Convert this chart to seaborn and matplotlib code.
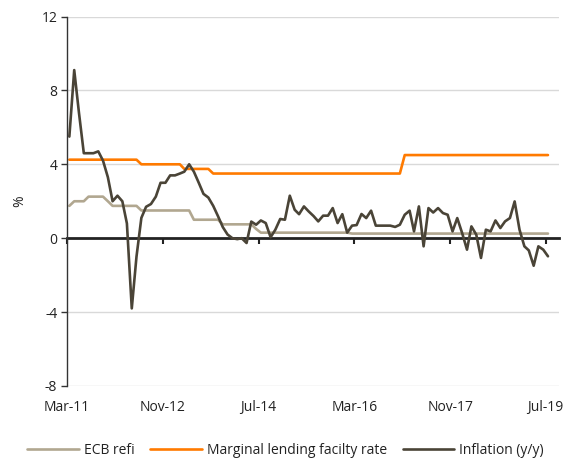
import numpy as np
import pandas as pd
import matplotlib
matplotlib.use("Agg")
import matplotlib.pyplot as plt
import matplotlib.dates as mdates
import seaborn as sns

# monthly data, Mar-11 .. Jul-19
months = pd.date_range("2011-03-01", periods=101, freq="MS") + pd.Timedelta(days=15)

inflation = [5.5, 9.1, 6.8, 4.6, 4.6, 4.6, 4.7, 4.2, 3.3, 2.0,
             2.3, 2.0, 0.8, -3.8, -1.0, 1.1, 1.7, 1.85, 2.25, 3.0,
             3.0, 3.4, 3.4, 3.5, 3.6, 4.0, 3.6, 3.0, 2.4, 2.2,
             1.75, 1.2, 0.6, 0.2, 0.0, -0.05, 0.0, -0.26, 0.9, 0.73,
             0.96, 0.82, 0.05, 0.46, 1.04, 1.0, 2.3, 1.54, 1.3, 1.72,
             1.45, 1.2, 0.91, 1.22, 1.22, 1.63, 0.82, 1.3, 0.3, 0.68,
             0.71, 1.31, 1.09, 1.49, 0.68, 0.68, 0.68, 0.68, 0.61, 0.73,
             1.27, 1.49, 0.37, 1.72, -0.44, 1.63, 1.39, 1.63, 1.36, 1.27,
             0.37, 1.09, 0.28, -0.62, 0.64, 0.19, -1.07, 0.46, 0.37, 0.96,
             0.55, 0.91, 1.09, 1.99, 0.46, -0.44, -0.66, -1.49, -0.44, -0.62,
             -0.98]

refi = ([1.75] + [2.0] * 3 + [2.25] * 4 + [2.0] + [1.75] * 6 + [1.5] * 11
        + [1.0] * 6 + [0.75] * 7 + [0.5] + [0.3] * 19 + [0.25] * 42)

mlf = [4.25] * 15 + [4.0] * 9 + [3.75] * 6 + [3.5] * 40 + [4.5] * 31

names = ["ECB refi", "Marginal lending facilty rate", "Inflation (y/y)"]
colors = ["#b1a790", "#ff7a00", "#4a4437"]

df = pd.concat([
    pd.DataFrame({"date": months, "value": refi, "series": names[0]}),
    pd.DataFrame({"date": months, "value": mlf, "series": names[1]}),
    pd.DataFrame({"date": months, "value": inflation, "series": names[2]}),
])

tick_dates = pd.to_datetime(["2011-03-01", "2012-11-01", "2014-07-01",
                             "2016-03-01", "2017-11-01", "2019-07-01"])

sns.set_theme(style="white")
plt.rcParams["font.family"] = ["Open Sans", "DejaVu Sans"]
plt.rcParams["axes.unicode_minus"] = False

fig = plt.figure(figsize=(5.79, 4.61), dpi=100)
ax = fig.add_axes([0.1157, 0.1627, 0.85, 0.8015])

sns.lineplot(data=df, x="date", y="value", hue="series", hue_order=names,
             palette=colors, linewidth=1.9, ax=ax, legend=False)

ax.set_ylim(-8, 12)
ax.set_yticks([-8, -4, 0, 4, 8, 12])
ax.set_xlim(pd.Timestamp("2011-03-01"), pd.Timestamp("2019-09-25"))
ax.yaxis.grid(True, color="#d9d9d9", linewidth=1)
ax.set_axisbelow(True)
ax.yaxis.get_gridlines()[2].set_visible(False)  # zero line drawn below

for s in ["top", "right", "bottom"]:
    ax.spines[s].set_visible(False)
ax.spines["left"].set_color("#333333")
ax.spines["left"].set_linewidth(1)
ax.tick_params(axis="y", left=True, length=4, width=1, color="#333333",
               labelsize=10, labelcolor="#222222", pad=3)

# labels along the bottom
ax.set_xticks(tick_dates)
ax.xaxis.set_major_formatter(mdates.DateFormatter("%b-%y"))
ax.tick_params(axis="x", bottom=True, length=0, labelsize=10,
               labelcolor="#222222", pad=10)

# zero line with tick marks
zero = ax.secondary_xaxis(0, transform=ax.transData)
zero.set_xticks(mdates.date2num(tick_dates))
zero.set_xticklabels([])
zero.tick_params(axis="x", direction="out", length=4, width=1.5, color="#222222")
zero.spines["bottom"].set_color("#222222")
zero.spines["bottom"].set_linewidth(2)

ax.set_xlabel("")
ax.set_ylabel("%", fontsize=10, color="#222222", labelpad=10)

handles = [plt.Line2D([], [], color=c, linewidth=1.9) for c in colors]
fig.legend(handles, names, loc="lower center", bbox_to_anchor=(0.493, -0.021),
           ncol=3, frameon=False, fontsize=10, handlelength=3.7,
           columnspacing=1.15, handletextpad=0.35, labelcolor="#222222")

fig.savefig("out.png", dpi=100)
